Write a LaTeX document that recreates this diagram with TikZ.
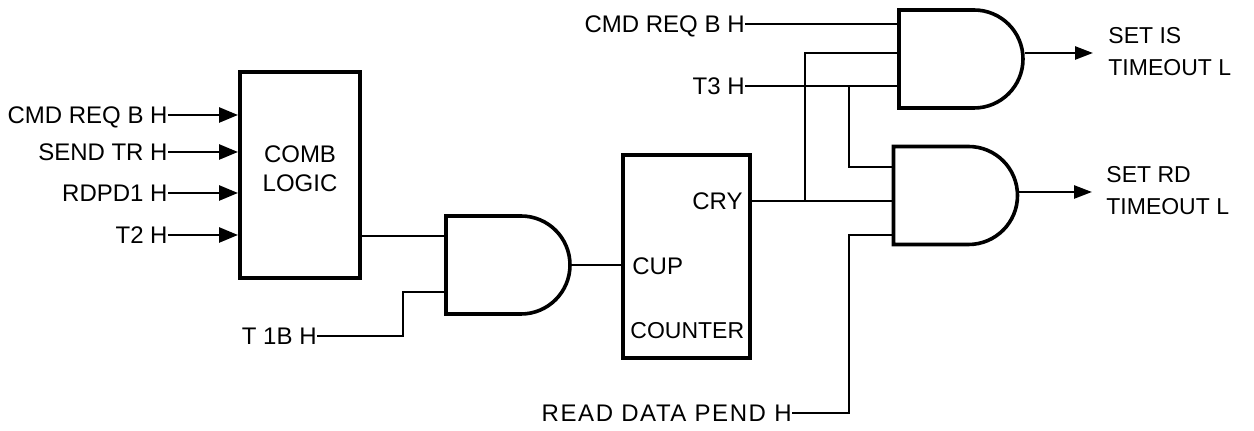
\documentclass[tikz,border=0pt]{standalone}
\usepackage{fontspec}
\setmainfont{Liberation Sans}
\usetikzlibrary{shapes.misc, arrows.meta, positioning}
\tikzstyle{signal} = [inner sep=0pt, text height=8.6pt, text depth=0pt, font=\fontsize{12}{14.5}\selectfont]
\tikzstyle{small} = [font=\fontsize{11.5}{14.5}\selectfont]
\tikzstyle{block} = [rectangle, draw=black, line width=2pt]
\tikzstyle{andgate} = [rounded rectangle, rounded rectangle left arc=none, minimum width=62pt, minimum height=49pt, inner sep=0pt, draw=black, line width=1.8pt]
\tikzstyle{wire} = [line width=1.3pt]
\tikzstyle{arrow} = [line width=1.3pt,-{Stealth[length=9.5pt,width=7.5pt,inset=0pt]}]
\tikzstyle{outarrow} = [line width=1.3pt,-{Stealth[length=9pt,width=6.5pt,inset=0pt]}]

\begin{document}
\begin{tikzpicture}[x=0.5pt, y=-0.5pt, node distance=100pt]
\useasboundingbox (0,0) rectangle (1254,431);

\node (comb) [block, minimum width=60pt, minimum height=103pt] at (300,175) {};
\node (gateA) [andgate, right of=comb, xshift=4pt, yshift=-45pt] {};
\node (counter) [block, minimum width=63.5pt, minimum height=101.5pt, right of=gateA, xshift=-11pt, yshift=4pt] {};
\node (gateC) [andgate, right of=counter, xshift=34.75pt, yshift=30.75pt] {};
\node (gateB) [andgate, above of=gateC, xshift=2.75pt, yshift=-31.75pt] {};

% text in the boxes
\node (combtext) [signal, align=center, text height=, text depth=] at (300,169) {COMB\\LOGIC};
\node (cry) [signal, anchor=east] at (743,201) {CRY};
\node (cup) [signal, anchor=west] at (632,266) {CUP};
\node (cnt) [signal, small, anchor=west] at (630,330) {COUNTER};

% inputs
\node (reqa) [signal, anchor=east] at (168,115) {CMD REQ B H};
\node (send) [signal, anchor=east] at (168,152) {SEND TR H};
\node (rdpd) [signal, anchor=east] at (168,193) {RDPD1 H};
\node (ttwo) [signal, anchor=east] at (168,235) {T2 H};
\node (tone) [signal, anchor=east] at (317,336) {T 1B H};
\node (reqb) [signal, anchor=east] at (745,24) {CMD REQ B H};
\node (tthree) [signal, anchor=east] at (745,86) {T3 H};
\node (read) [signal, anchor=east, font=\fontsize{12}{14.5}\addfontfeature{LetterSpace=6.5}] at (792,413) {READ DATA PEND H};

% outputs
\node (setis) [signal, small, align=left, anchor=west, text height=, text depth=] at (1108,52) {SET IS\\[1.5pt]TIMEOUT L};
\node (setrd) [signal, small, align=left, anchor=west, text height=, text depth=] at (1106,191) {SET RD\\[1.5pt]TIMEOUT L};
\coordinate (endis) at (1093,53);
\coordinate (endrd) at (1092,192);

% wiring points
\coordinate (bendA) at (403,292);
\coordinate (combout) at (445,236);
\coordinate (cupin) at (622,265);
\coordinate (tapcry) at (805,201);
\coordinate (tapb) at (805,53);
\coordinate (tapt) at (849,86);
\coordinate (tapc) at (849,167);
\coordinate (tapr) at (849,235);

\draw [arrow] (reqa) -- (comb.west |- reqa);
\draw [arrow] (send) -- (comb.west |- send);
\draw [arrow] (rdpd) -- (comb.west |- rdpd);
\draw [arrow] (ttwo) -- (comb.west |- ttwo);
\draw [wire] (comb.east |- combout) -- (combout);
\draw [wire] (tone) -| (bendA) -- (gateA.west |- bendA);
\draw [wire] (gateA.east) -- (cupin);
\draw [wire] (counter.east |- cry) -- (gateC.west |- cry);
\draw [wire] (reqb) -- (gateB.west |- reqb);
\draw [wire] (tthree) -- (gateB.west |- tthree);
\draw [wire] (tapcry) -- (tapb) -- (gateB.west |- tapb);
\draw [wire] (tapt) -- (tapc) -- (gateC.west |- tapc);
\draw [wire] (read) -| (tapr) -- (gateC.west |- tapr);
\draw [outarrow] (gateB.east |- endis) -- (endis);
\draw [outarrow] (gateC.east |- endrd) -- (endrd);

\end{tikzpicture}
\end{document}
